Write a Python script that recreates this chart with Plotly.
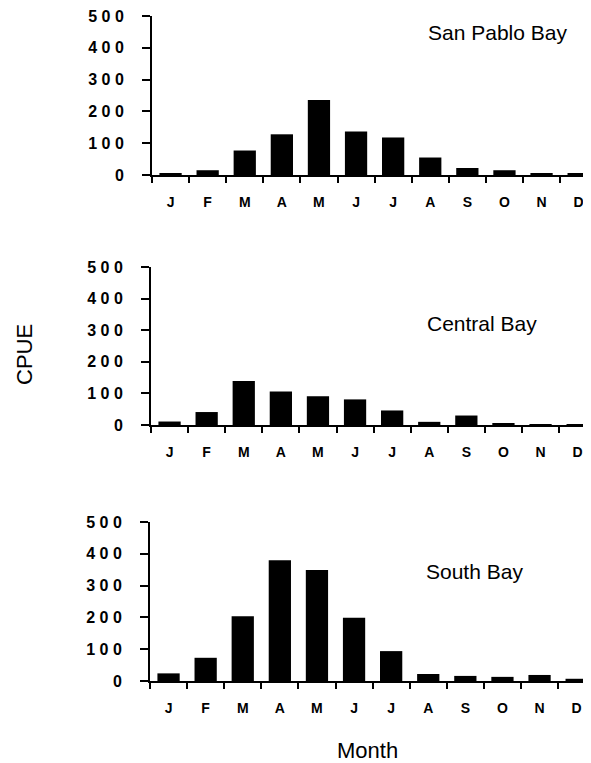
import plotly.graph_objects as go

months = ["J", "F", "M", "A", "M", "J", "J", "A", "S", "O", "N", "D"]
month_keys = ["Jan", "Feb", "Mar", "Apr", "May", "Jun", "Jul", "Aug", "Sep", "Oct", "Nov", "Dec"]
san_pablo = [6, 15, 77, 128, 236, 137, 118, 55, 22, 15, 5, 5]
central = [11, 41, 139, 106, 91, 81, 46, 10, 30, 5, 2, 2]
south = [24, 73, 204, 380, 349, 199, 94, 22, 16, 13, 19, 7]
panel_names = ["San Pablo Bay", "Central Bay", "South Bay"]
y_tickvals = [0, 100, 200, 300, 400, 500]
y_ticktext = ["0", "1 0 0", "2 0 0", "3 0 0", "4 0 0", "5 0 0"]

# page body has an 8px default margin; size the figure so it fills the 591x763 window
OFF = 8
W, H = 591 - OFF, 763 - OFF


def fx(px):
    return (px - OFF) / W


def fy(py):
    return 1 - (py - OFF) / H


series = [san_pablo, central, south]
axis_left_px = [152, 151, 150]
zero_px = [175, 425, 681]
top_px = [16, 267, 522]
cat_px = 37.1
title_pos = [(497, 33), (482, 324), (474, 571)]

FAM = "Liberation Sans, Arial, sans-serif"
fig = go.Figure()

for i, vals in enumerate(series):
    n = "" if i == 0 else str(i + 1)
    fig.add_trace(go.Bar(x=month_keys, y=vals, marker=dict(color="black", line=dict(width=0)),
                         xaxis="x" + n, yaxis="y" + n, showlegend=False))
    xr = -0.5 + (591 - axis_left_px[i]) / cat_px
    fig.layout["xaxis" + n] = dict(
        domain=[fx(axis_left_px[i]), 1], anchor="y" + n, type="category",
        categoryorder="array", categoryarray=month_keys,
        tickmode="array", tickvals=month_keys, ticktext=months,
        tickson="boundaries", ticks="outside", ticklen=6, tickwidth=2, tickcolor="black",
        showline=True, linewidth=2, linecolor="black", showgrid=False, zeroline=False,
        range=[-0.5, xr], automargin=False, ticklabeloverflow="allow",
        tickfont=dict(family=FAM, size=14, color="black", weight="bold"),
        ticklabelstandoff=13,
    )
    fig.layout["yaxis" + n] = dict(
        domain=[fy(zero_px[i]), fy(top_px[i])], anchor="x" + n, range=[0, 500], automargin=False,
        tickmode="array", tickvals=y_tickvals, ticktext=y_ticktext, ticklabeloverflow="allow",
        ticks="outside", ticklen=8, tickwidth=2, tickcolor="black",
        showline=True, linewidth=2, linecolor="black", showgrid=False, zeroline=False,
        tickfont=dict(family=FAM, size=16, color="black", weight="bold"),
        ticklabelstandoff=15,
    )
    tx, ty = title_pos[i]
    fig.add_annotation(x=fx(tx), y=fy(ty), xref="paper", yref="paper", text=panel_names[i],
                       showarrow=False, xanchor="center", yanchor="middle",
                       font=dict(family=FAM, size=21, color="black"))

fig.add_annotation(x=fx(24), y=fy(355), xref="paper", yref="paper", text="CPUE", textangle=-90,
                   showarrow=False, xanchor="center", yanchor="middle",
                   font=dict(family=FAM, size=22, color="black"))
fig.add_annotation(x=fx(367), y=fy(750), xref="paper", yref="paper", text="Month",
                   showarrow=False, xanchor="center", yanchor="middle",
                   font=dict(family=FAM, size=22, color="black"))

fig.update_layout(width=W, height=H, margin=dict(l=0, r=0, t=0, b=0, autoexpand=False),
                  paper_bgcolor="white", plot_bgcolor="white", bargap=0.4)
fig.write_html("out.html")
